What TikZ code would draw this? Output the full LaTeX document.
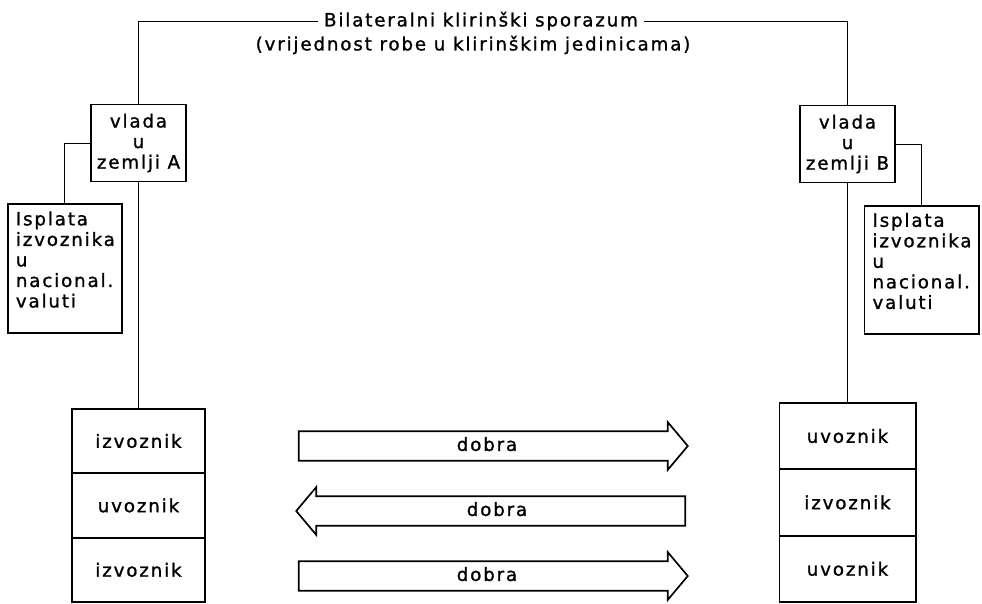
\documentclass[tikz,border=0pt]{standalone}
\usepackage{fontspec}
\newfontfamily\lettering[LetterSpace=10,FakeBold=1.2]{DejaVu Sans}
\usetikzlibrary{positioning,shapes.arrows}

\newcommand{\lastline}{\rule[-13pt]{0pt}{1pt}}

\tikzset{
    box/.style={draw, line width=1.4pt, font=\lettering\fontsize{13}{14.6}\selectfont},
    gov/.style={box, align=center, minimum width=2.375cm, minimum height=1.925cm, inner sep=2pt},
    payout/.style={box, align=left, text width=2.45cm, inner xsep=0.2cm, inner ysep=5pt},
    cellA/.style={box, minimum width=3.3cm, minimum height=1.61cm, outer sep=0pt},
    cellB/.style={box, minimum width=3.4cm, minimum height=1.66cm, outer sep=0pt},
    goods/.style={draw, line width=1.2pt, single arrow, single arrow head extend=0.225cm,
        single arrow tip angle=100, minimum height=9.725cm, text height=9.5pt, text depth=2.5pt,
        inner ysep=3.95pt, inner xsep=0pt, font=\lettering\fontsize{13}{14.6}\selectfont},
    heading/.style={inner xsep=4pt, inner ysep=1pt, font=\lettering\fontsize{13}{14.6}\selectfont},
    link/.style={line width=0.7pt}
}

\begin{document}
\begin{tikzpicture}[%
    x=0.025cm,
    y=-0.025cm,
    on grid
    ]
    \useasboundingbox (0,0) rectangle (982,604);

    \node[heading] (title) at (481,21) {Bilateralni klirinški sporazum};
    \node[heading] (subtitle) at (473,45) {(vrijednost robe u klirinškim jedinicama)};

    \node[gov] (govA) at (138.5,143) {vlada\\u\\zemlji A};
    \node[gov] (govB) at (847.5,144) {vlada\\u\\zemlji B};
    \node[payout] (payA) [below left=3.14cm and 1.84cm of govA] {Isplata\\izvoznika\\u\\nacional.\\valuti\lastline};
    \node[payout] (payB) [below right=3.15cm and 1.85cm of govB] {Isplata\\izvoznika\\u\\nacional.\\valuti\lastline};

    \node[cellA] (exA1) at (138.5,441) {izvoznik};
    \node[cellA] (imA) [below=1.61cm of exA1] {uvoznik};
    \node[cellA] (exA2) [below=1.61cm of imA] {izvoznik};

    \node[cellB] (imB1) at (847.5,436) {uvoznik};
    \node[cellB] (exB) [below=1.66cm of imB1] {izvoznik};
    \node[cellB] (imB2) [below=1.66cm of exB] {uvoznik};

    \node[goods] (flow1) at (487,446) {dobra};
    \node[goods, shape border rotate=180] (flow2) at (497,511) {dobra};
    \node[goods] (flow3) at (487,576) {dobra};

    \draw[link] (govA.north) |- (title.west);
    \draw[link] (title.east) -| (govB.north);
    \draw[link] (govA.west) -| (payA.north);
    \draw[link] (govB.east) -| (payB.north);
    \draw[link] (govA.south) -- (exA1.north);
    \draw[link] (govB.south) -- (imB1.north);

\end{tikzpicture}
\end{document}
